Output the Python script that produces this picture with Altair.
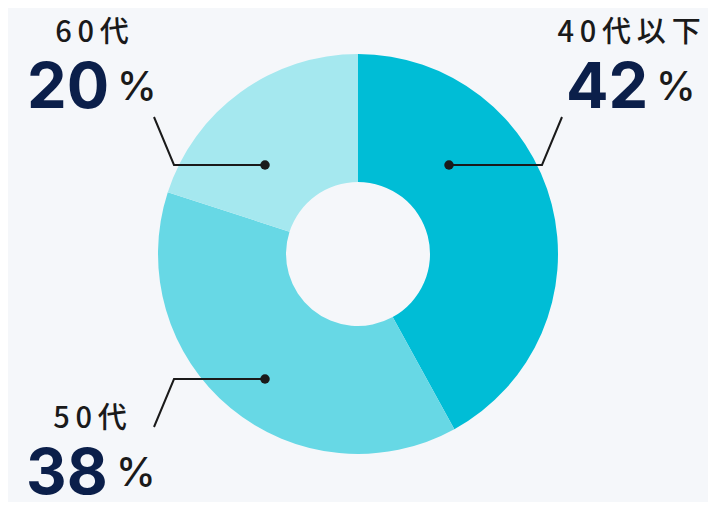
import altair as alt
import pandas as pd

# ---- data ----
categories = ["40代以下", "50代", "60代"]
values = [42, 38, 20]
colors = ["#00bdd6", "#67d8e5", "#a5e8ef"]

# ---- layout (chart pixel coordinates, y downwards) ----
W, H = 700, 494
CX, CY = 350, 246
R_OUT, R_IN = 200, 72
label_layout = {
    "40代以下": dict(cat_x=621, cat_y=34, num_x=558, num_y=100, pct_dx=90,
                  path=[(554, 109), (534, 157), (441, 157)]),
    "50代": dict(cat_x=82, cat_y=420, num_x=18, num_y=486, pct_dx=90,
                path=[(146, 419), (166, 371), (257, 371)]),
    "60代": dict(cat_x=84, cat_y=34, num_x=19, num_y=100, pct_dx=90,
                path=[(146, 109), (166, 157), (257, 157)]),
}

def spaced(s):
    return "\u2009".join(list(s))

pie_df = pd.DataFrame({"cat": categories, "value": values,
                       "order": list(range(len(categories)))})

text_rows, line_rows, dot_rows = [], [], []
for c, v in zip(categories, values):
    L = label_layout[c]
    text_rows.append(dict(cat=c, label=spaced(c), x=L["cat_x"], y=L["cat_y"],
                          num=str(v), nx=L["num_x"], ny=L["num_y"],
                          px=L["num_x"] + L["pct_dx"], py=L["num_y"] - 8))
    for i, (px, py) in enumerate(L["path"]):
        line_rows.append(dict(cat=c, i=i, x=px, y=py))
    dot_rows.append(dict(cat=c, x=L["path"][-1][0], y=L["path"][-1][1]))

text_df = pd.DataFrame(text_rows)
line_df = pd.DataFrame(line_rows)
dot_df = pd.DataFrame(dot_rows)

xs = alt.Scale(domain=[0, W], range=[0, W])
ys = alt.Scale(domain=[0, H], range=[0, H])

pie = alt.Chart(pie_df).mark_arc(radius=R_OUT, radius2=R_IN, stroke=None).encode(
    theta=alt.Theta("value:Q", stack=True),
    order=alt.Order("order:Q"),
    color=alt.Color("cat:N", scale=alt.Scale(domain=categories, range=colors), legend=None),
    x=alt.value(CX), y=alt.value(CY),
)

lines = alt.Chart(line_df).mark_line(color="#1a1a1a", strokeWidth=2).encode(
    x=alt.X("x:Q", scale=xs, axis=None),
    y=alt.Y("y:Q", scale=ys, axis=None),
    detail="cat:N",
    order="i:Q",
)

dots = alt.Chart(dot_df).mark_circle(color="#1a1a1a", size=90, opacity=1).encode(
    x=alt.X("x:Q", scale=xs, axis=None),
    y=alt.Y("y:Q", scale=ys, axis=None),
)

cat_text = alt.Chart(text_df).mark_text(
    font="Noto Sans CJK JP", fontSize=29, fontWeight=500, color="#1a1a1a",
    align="center", baseline="alphabetic",
).encode(
    x=alt.X("x:Q", scale=xs, axis=None),
    y=alt.Y("y:Q", scale=ys, axis=None),
    text="label:N",
)

num_text = alt.Chart(text_df).mark_text(
    font="Inter", fontSize=63, fontWeight=700, color="#0b1f4a",
    align="left", baseline="alphabetic",
).encode(
    x=alt.X("nx:Q", scale=xs, axis=None),
    y=alt.Y("ny:Q", scale=ys, axis=None),
    text="num:N",
)

pct_text = alt.Chart(text_df).mark_text(
    font="Inter", fontSize=40, fontWeight=500, color="#1a1a1a",
    align="left", baseline="alphabetic",
).encode(
    x=alt.X("px:Q", scale=xs, axis=None),
    y=alt.Y("py:Q", scale=ys, axis=None),
    text=alt.value("%"),
)

chart = alt.layer(pie, lines, dots, cat_text, num_text, pct_text).properties(
    width=W, height=H, padding=0, autosize=alt.AutoSizeParams(type="none"),
    background="#f5f7fa",
).configure_view(stroke=None)

chart.save("out.html", embed_options={"renderer": "svg", "actions": False})
